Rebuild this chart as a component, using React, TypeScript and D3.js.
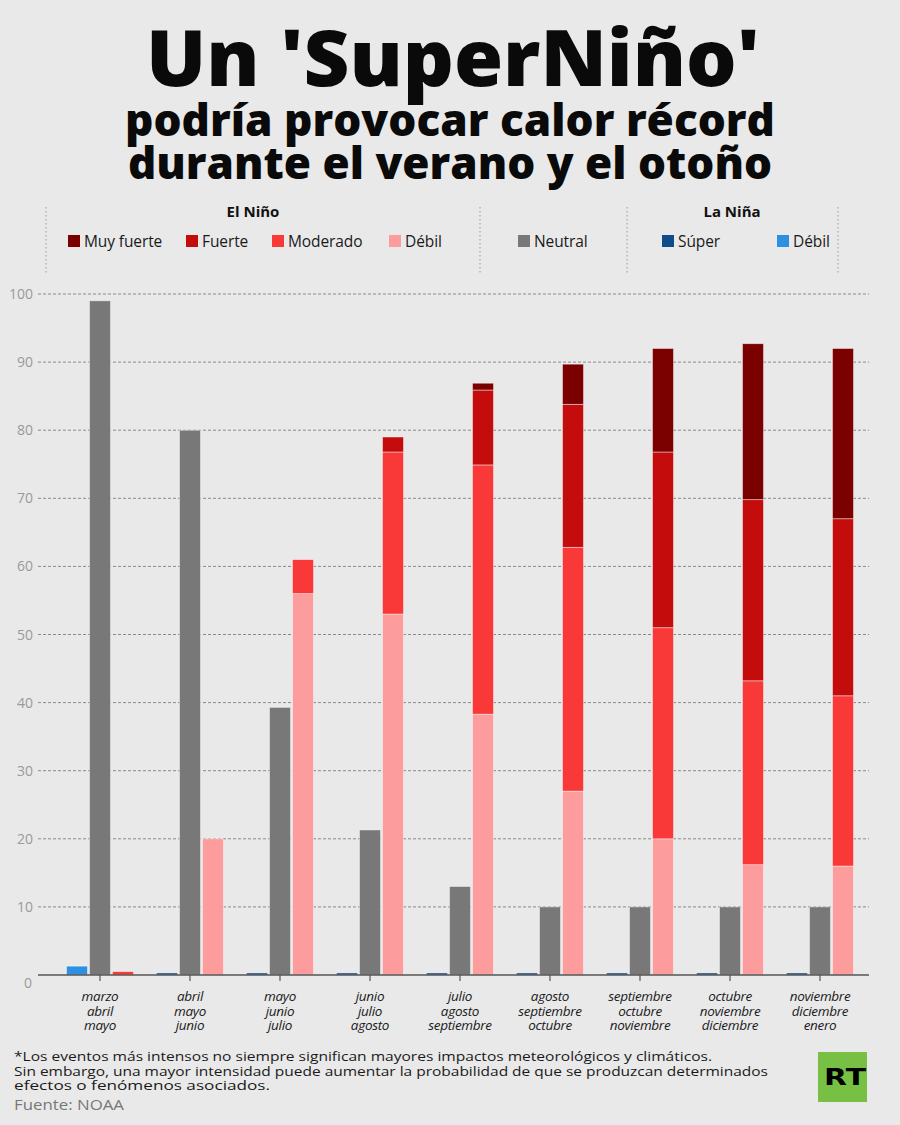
import * as d3 from 'd3';
import React from 'react';

// Three-month seasons (one group per season)
const periods = [
  ['marzo', 'abril', 'mayo'],
  ['abril', 'mayo', 'junio'],
  ['mayo', 'junio', 'julio'],
  ['junio', 'julio', 'agosto'],
  ['julio', 'agosto', 'septiembre'],
  ['agosto', 'septiembre', 'octubre'],
  ['septiembre', 'octubre', 'noviembre'],
  ['octubre', 'noviembre', 'diciembre'],
  ['noviembre', 'diciembre', 'enero'],
];

// Probabilities (%)
const neutral = [99, 80, 39.3, 21.3, 13, 10, 10, 10, 10];
const ninoDebil = [0, 20, 56, 53, 38.3, 27, 20, 16.2, 16];
const ninoModerado = [0.5, 0, 5, 23.8, 36.6, 35.8, 31, 27, 25];
const ninoFuerte = [0, 0, 0, 2.2, 11, 21, 25.8, 26.6, 26];
const ninoMuyFuerte = [0, 0, 0, 0, 1, 5.9, 15.2, 22.9, 25];
const ninaSuper = [0, 0.3, 0.3, 0.3, 0.3, 0.3, 0.3, 0.3, 0.3];
const ninaDebil = [1.3, 0, 0, 0, 0, 0, 0, 0, 0];

const yTicks = [0, 10, 20, 30, 40, 50, 60, 70, 80, 90, 100];

const colors = {
  muyFuerte: '#7b0000',
  fuerte: '#c40c0c',
  moderado: '#f93838',
  debil: '#fc9c9c',
  neutral: '#787878',
  ninaSuper: '#0f4c8c',
  ninaDebil: '#2e90e2',
};

const ninoKeys = ['debil', 'moderado', 'fuerte', 'muyFuerte'];
const ninaKeys = ['ninaSuper', 'ninaDebil'];

const FONT = "'Open Sans', 'Noto Sans', sans-serif";

export default function App() {
  const W = 900;
  const H = 1125;

  const idx = periods.map((_, i) => i);
  const x = d3.scaleBand<number>().domain(idx).range([55, 865]).padding(0);
  const inner = d3
    .scaleBand<string>()
    .domain(['nina', 'neutral', 'nino'])
    .range([-33.5, 33.5])
    .paddingInner(2 / 23);
  const y = d3.scaleLinear().domain([0, 100]).range([975, 294]);
  const cx = (i: number) => (x(i) ?? 0) + x.bandwidth() / 2;

  const ninoRows = idx.map(i => ({
    debil: ninoDebil[i],
    moderado: ninoModerado[i],
    fuerte: ninoFuerte[i],
    muyFuerte: ninoMuyFuerte[i],
  }));
  const ninaRows = idx.map(i => ({ ninaSuper: ninaSuper[i], ninaDebil: ninaDebil[i] }));
  const ninoStack = d3.stack<any>().keys(ninoKeys)(ninoRows);
  const ninaStack = d3.stack<any>().keys(ninaKeys)(ninaRows);

  const bw = inner.bandwidth();

  const stackedRects = (series: d3.Series<any, string>[], slot: string) =>
    series.flatMap(s =>
      s.map((d, i) => {
        if (d[1] - d[0] <= 0) return null;
        return (
          <rect
            key={`${slot}-${s.key}-${i}`}
            x={cx(i) + (inner(slot) ?? 0)}
            y={y(d[1])}
            width={bw}
            height={y(d[0]) - y(d[1])}
            fill={(colors as any)[s.key]}
            stroke="rgba(255,255,255,0.55)"
            strokeWidth={0.8}
          />
        );
      })
    );

  const legendItems = [
    { key: 'muyFuerte', label: 'Muy fuerte', sx: 68 },
    { key: 'fuerte', label: 'Fuerte', sx: 186 },
    { key: 'moderado', label: 'Moderado', sx: 272 },
    { key: 'debil', label: 'Débil', sx: 389 },
    { key: 'neutral', label: 'Neutral', sx: 518 },
    { key: 'ninaSuper', label: 'Súper', sx: 662 },
    { key: 'ninaDebil', label: 'Débil', sx: 777 },
  ];

  return (
    <svg
      width={W}
      height={H}
      style={{ position: 'absolute', left: 0, top: 0 }}
      fontFamily={FONT}
    >
      <rect width={W} height={H} fill="#e9e9e9" />

      {/* Title */}
      <g fill="#0a0a0a" fontWeight={800} textAnchor="middle">
        <text x={453} y={86} fontSize={78} textLength={614} lengthAdjust="spacingAndGlyphs">
          Un 'SuperNiño'
        </text>
        <text x={450} y={136} fontSize={45} textLength={650} lengthAdjust="spacingAndGlyphs">
          podría provocar calor récord
        </text>
        <text x={450} y={179} fontSize={45} textLength={644} lengthAdjust="spacingAndGlyphs">
          durante el verano y el otoño
        </text>
      </g>

      {/* Legend */}
      <g>
        {[46, 480, 627, 838].map(sx => (
          <line
            key={sx}
            x1={sx}
            x2={sx}
            y1={207}
            y2={273}
            stroke="#9a9a9a"
            strokeDasharray="1.5,2.5"
          />
        ))}
        <text x={253} y={217} textAnchor="middle" fontSize={15} fontWeight={700} fill="#111">
          El Niño
        </text>
        <text x={732} y={217} textAnchor="middle" fontSize={15} fontWeight={700} fill="#111">
          La Niña
        </text>
        {legendItems.map(d => (
          <g key={d.label + d.sx}>
            <rect x={d.sx} y={235} width={12} height={12} fill={(colors as any)[d.key]} />
            <text x={d.sx + 16} y={246.5} fontSize={15.5} fill="#1a1a1a" letterSpacing={-0.1}>
              {d.label}
            </text>
          </g>
        ))}
      </g>

      {/* Grid */}
      <g>
        {yTicks.filter(t => t > 0).map(t => (
          <line
            key={t}
            x1={38}
            x2={869}
            y1={y(t)}
            y2={y(t)}
            stroke="#8a8a8a"
            strokeWidth={1}
            strokeDasharray="3,2"
          />
        ))}
        {yTicks.map(t => (
          <text
            key={t}
            x={t === 0 ? 32 : 33}
            y={t === 0 ? 988 : y(t) + 5}
            textAnchor="end"
            fontSize={14}
            fill="#9a9a9a"
          >
            {t}
          </text>
        ))}
      </g>

      {/* Bars */}
      <g>
        {stackedRects(ninaStack, 'nina')}
        {neutral.map((v, i) => (
          <rect
            key={`neutral-${i}`}
            x={cx(i) + (inner('neutral') ?? 0)}
            y={y(v)}
            width={bw}
            height={y(0) - y(v)}
            fill={colors.neutral}
            stroke="rgba(255,255,255,0.55)"
            strokeWidth={0.8}
          />
        ))}
        {stackedRects(ninoStack, 'nino')}
      </g>

      {/* X axis */}
      <g>
        <line x1={38} x2={869} y1={y(0)} y2={y(0)} stroke="#555" strokeWidth={1.5} />
        {idx.map(i => (
          <g key={i}>
            <line x1={cx(i)} x2={cx(i)} y1={y(0)} y2={y(0) + 6} stroke="#555" strokeWidth={1.2} />
            {periods[i].map((m, k) => (
              <text
                key={k}
                x={cx(i)}
                y={1001 + k * 14.5}
                textAnchor="middle"
                fontSize={13.5}
                fontStyle="italic"
                fill="#1a1a1a"
                letterSpacing={-0.3}
              >
                {m}
              </text>
            ))}
          </g>
        ))}
      </g>

      {/* Footnote */}
      <g fontSize={13.5} fill="#1a1a1a">
        <text x={14} y={1061} textLength={698} lengthAdjust="spacingAndGlyphs">
          *Los eventos más intensos no siempre significan mayores impactos meteorológicos y climáticos.
        </text>
        <text x={14} y={1075.5} textLength={754} lengthAdjust="spacingAndGlyphs">
          Sin embargo, una mayor intensidad puede aumentar la probabilidad de que se produzcan determinados
        </text>
        <text x={14} y={1090} textLength={256} lengthAdjust="spacingAndGlyphs">
          efectos o fenómenos asociados.
        </text>
        <text x={14} y={1110} fill="#777" fontSize={14} textLength={110} lengthAdjust="spacingAndGlyphs">
          Fuente: NOAA
        </text>
      </g>

      {/* Logo */}
      <g>
        <rect x={818} y={1052} width={49} height={50} fill="#77c043" />
        <text
          x={845}
          y={1085}
          textAnchor="middle"
          fontSize={23}
          fontWeight={900}
          fill="#000"
          fontFamily="'DejaVu Sans', sans-serif"
          textLength={42}
          lengthAdjust="spacingAndGlyphs"
        >
          RT
        </text>
      </g>
    </svg>
  );
}
